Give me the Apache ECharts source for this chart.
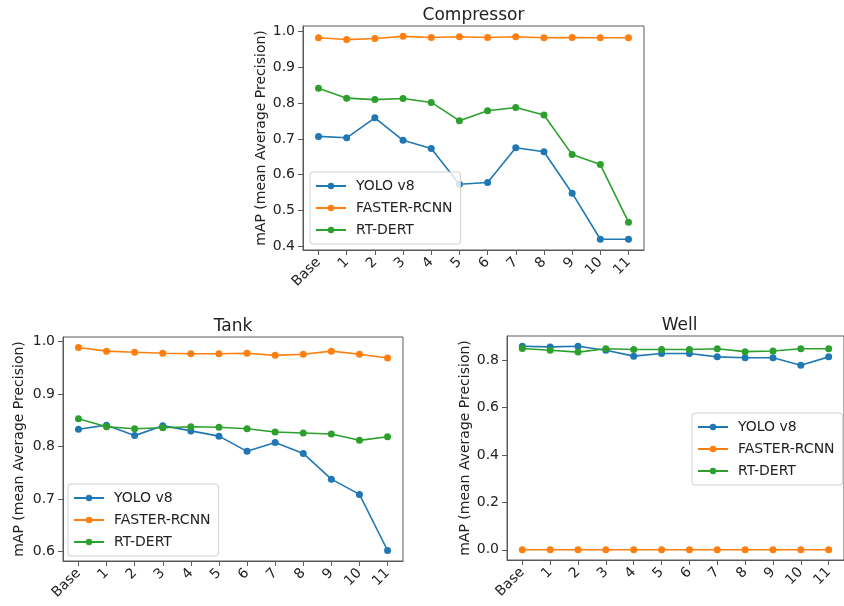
<!DOCTYPE html>
<html>
<head>
<meta charset="utf-8">
<script src="https://cdn.jsdelivr.net/npm/echarts@6/dist/echarts.min.js"></script>
<style>
html,body{margin:0;padding:0;background:#fff;}
#chart{width:844px;height:606px;}
</style>
</head>
<body>
<div id="chart"></div>
<script>
const categories = ['Base','1','2','3','4','5','6','7','8','9','10','11'];
const seriesNames = ['YOLO v8','FASTER-RCNN','RT-DERT'];

const compressorYolo   = [0.707,0.703,0.759,0.696,0.673,0.573,0.578,0.675,0.664,0.548,0.419,0.419];
const compressorFaster = [0.983,0.978,0.981,0.987,0.984,0.986,0.984,0.986,0.983,0.984,0.983,0.983];
const compressorRt     = [0.842,0.814,0.810,0.813,0.802,0.751,0.779,0.788,0.767,0.656,0.628,0.467];

const tankYolo   = [0.833,0.841,0.821,0.840,0.830,0.820,0.791,0.808,0.787,0.738,0.709,0.602];
const tankFaster = [0.989,0.982,0.980,0.978,0.977,0.977,0.978,0.974,0.976,0.982,0.976,0.969];
const tankRt     = [0.853,0.838,0.834,0.836,0.838,0.837,0.834,0.828,0.826,0.824,0.812,0.819];

const wellYolo   = [0.859,0.856,0.859,0.842,0.817,0.828,0.828,0.814,0.810,0.810,0.779,0.814];
const wellFaster = [0.0,0.0,0.0,0.0,0.0,0.0,0.0,0.0,0.0,0.0,0.0,0.0];
const wellRt     = [0.849,0.842,0.834,0.848,0.845,0.845,0.845,0.848,0.836,0.839,0.848,0.848];

const compressorYTicks = [0.4,0.5,0.6,0.7,0.8,0.9,1.0];
const tankYTicks = [0.6,0.7,0.8,0.9,1.0];
const wellYTicks = [0.0,0.2,0.4,0.6,0.8];

const colors = ['#1f77b4','#ff7f0e','#2ca02c'];
const FONT = 'DejaVu Sans';
const TXT = '#222';
const SPINE = '#5a5a5a';

const panels = [
  {title:'Compressor', grid:{left:303,top:26,width:341,height:224}, y:[0.389,1.016], ticks:compressorYTicks, data:[compressorYolo,compressorFaster,compressorRt],
   legend:{left:310,top:172}, nameGap:33},
  {title:'Tank', grid:{left:63,top:337,width:340,height:224}, y:[0.582,1.009], ticks:tankYTicks, data:[tankYolo,tankFaster,tankRt],
   legend:{left:68,top:484}, nameGap:37},
  {title:'Well', grid:{left:507,top:336,width:345,height:224}, y:[-0.043,0.902], ticks:wellYTicks, data:[wellYolo,wellFaster,wellRt],
   legend:{left:692,top:413}, nameGap:35}
];

const idx = categories.map((c,i)=>i);
const option = {
  animation:false,
  backgroundColor:'#fff',
  grid:[], xAxis:[], yAxis:[], series:[], legend:[], graphic:[]
};

panels.forEach((p,gi)=>{
  option.grid.push(Object.assign({show:true, borderColor:SPINE, borderWidth:1, backgroundColor:'transparent'}, p.grid));
  option.xAxis.push({
    type:'value', gridIndex:gi, min:-0.55, max:11.55,
    axisLine:{show:true, onZero:false, lineStyle:{color:SPINE}},
    axisTick:{show:true, length:5, lineStyle:{color:SPINE}, customValues:idx},
    axisLabel:{customValues:idx, rotate:45, margin:10, color:TXT, fontFamily:FONT, fontSize:14,
      formatter:(v)=>categories[Math.round(v)]},
    splitLine:{show:false}
  });
  option.yAxis.push({
    type:'value', gridIndex:gi, min:p.y[0], max:p.y[1],
    name:'mAP (mean Average Precision)', nameLocation:'middle', nameRotate:90, nameGap:p.nameGap,
    nameTextStyle:{color:TXT, fontFamily:FONT, fontSize:14},
    axisLine:{show:true, onZero:false, lineStyle:{color:SPINE}},
    axisTick:{show:true, length:5, lineStyle:{color:SPINE}, customValues:p.ticks},
    axisLabel:{customValues:p.ticks, margin:8, color:TXT, fontFamily:FONT, fontSize:14,
      formatter:(v)=>v.toFixed(1)},
    splitLine:{show:false}
  });
  p.data.forEach((arr,si)=>{
    option.series.push({
      type:'line', name:seriesNames[si], xAxisIndex:gi, yAxisIndex:gi,
      data:arr.map((v,i)=>[i,v]),
      symbol:'circle', symbolSize:7,
      lineStyle:{width:1.6, color:colors[si]},
      itemStyle:{color:colors[si]},
      emphasis:{disabled:true}
    });
  });
  option.legend.push({
    data:seriesNames, orient:'vertical', left:p.legend.left, top:p.legend.top,
    padding:[7,8,7,5], itemGap:8, itemWidth:30, itemHeight:8,
    borderColor:'#d0d0d0', borderWidth:1, borderRadius:3, backgroundColor:'rgba(255,255,255,0.8)',
    textStyle:{color:TXT, fontFamily:FONT, fontSize:14, padding:[0,0,0,5]},
    selectedMode:false
  });
  option.graphic.push({
    type:'text',
    x:p.grid.left + p.grid.width/2, y:p.grid.top - 19,
    style:{text:p.title, fill:TXT, font:'17px "DejaVu Sans"', align:'center', verticalAlign:'top'}
  });
});

const chart = echarts.init(document.getElementById('chart'), null, {renderer:'canvas'});
chart.setOption(option);
</script>
</body>
</html>
